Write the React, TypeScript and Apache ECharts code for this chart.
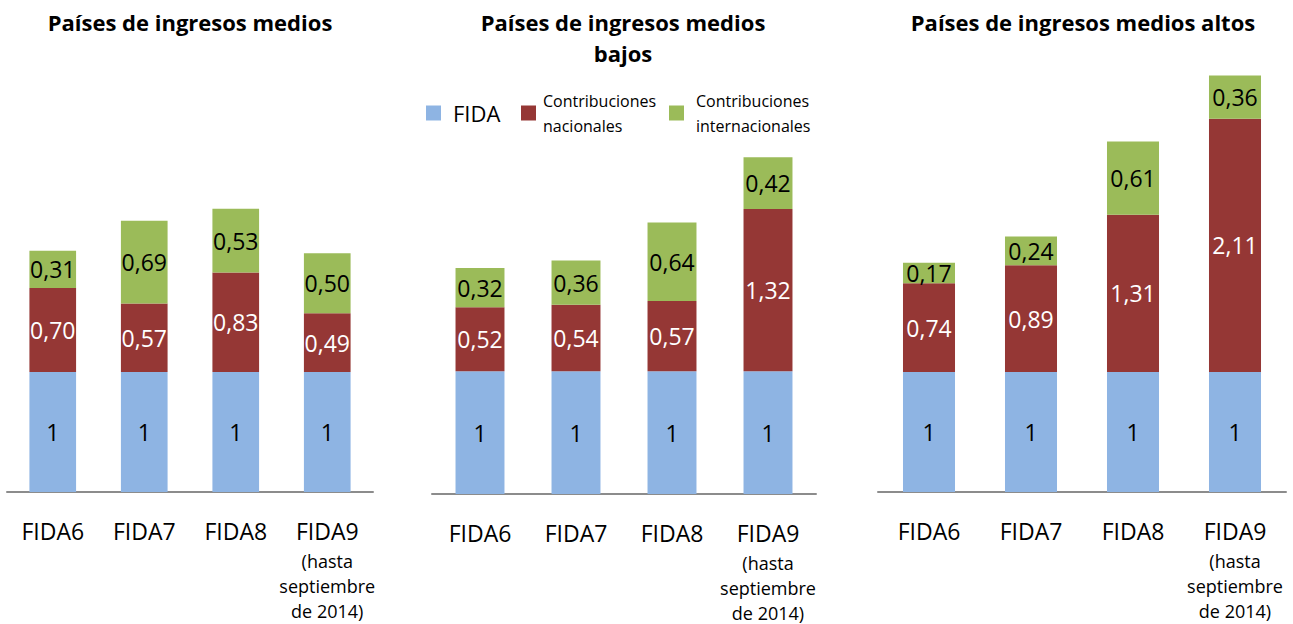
import React, { useEffect, useRef } from "react";
import * as echarts from "echarts";

const categories = ["FIDA6", "FIDA7", "FIDA8", "FIDA9\n(hasta\nseptiembre\nde 2014)"];
const seriesNames = ["FIDA", "Contribuciones nacionales", "Contribuciones internacionales"];
const panelTitles = [
  "Países de ingresos medios",
  "Países de ingresos medios\nbajos",
  "Países de ingresos medios altos",
];

// Panel 1: Países de ingresos medios
const p1Fida = [1, 1, 1, 1];
const p1Nacional = [0.7, 0.57, 0.83, 0.49];
const p1Internacional = [0.31, 0.69, 0.53, 0.5];
// Panel 2: Países de ingresos medios bajos
const p2Fida = [1, 1, 1, 1];
const p2Nacional = [0.52, 0.54, 0.57, 1.32];
const p2Internacional = [0.32, 0.36, 0.64, 0.42];
// Panel 3: Países de ingresos medios altos
const p3Fida = [1, 1, 1, 1];
const p3Nacional = [0.74, 0.89, 1.31, 2.11];
const p3Internacional = [0.17, 0.24, 0.61, 0.36];

const panels = [
  [p1Fida, p1Nacional, p1Internacional],
  [p2Fida, p2Nacional, p2Internacional],
  [p3Fida, p3Nacional, p3Internacional],
];

const colors = ["#8EB4E3", "#953735", "#9BBB59"];
const labelColors = ["#000000", "#ffffff", "#000000"];
const FONT = "'Open Sans', 'Noto Sans', sans-serif";

const grids = [
  { left: 7, width: 366, top: 72, height: 420 },
  { left: 432, width: 384, top: 64, height: 430 },
  { left: 878, width: 408, top: 72, height: 420 },
];
const titleCenters = [190, 623, 1083];

const fmt = (v: number) =>
  Number.isInteger(v) ? String(v) : v.toFixed(2).replace(".", ",");

export default function App() {
  const ref = useRef<HTMLDivElement>(null);
  useEffect(() => {
    if (!ref.current) return;
    const chart = echarts.init(ref.current, null, { renderer: "svg" });

    const series: any[] = [];
    panels.forEach((panel, pi) => {
      panel.forEach((vals, si) => {
        series.push({
          type: "bar",
          name: seriesNames[si],
          xAxisIndex: pi,
          yAxisIndex: pi,
          stack: "p" + pi,
          barWidth: "51%",
          data: vals,
          itemStyle: { color: colors[si] },
          label: {
            show: true,
            position: "inside",
            color: labelColors[si],
            fontFamily: FONT,
            fontSize: 23,
            formatter: (p: any) => fmt(p.value),
          },
        });
      });
    });

    const legendLefts = [426, 521, 669];
    const legends = seriesNames.map((n, i) => ({
      show: true,
      left: legendLefts[i],
      top: i === 0 ? 100 : 88,
      padding: 0,
      orient: "horizontal",
      icon: "rect",
      itemWidth: 15,
      itemHeight: 15,
      selectedMode: false,
      data: [n],
      formatter: (name: string) => name.replace(" ", "\n"),
      textStyle:
        i === 0
          ? { fontFamily: FONT, fontSize: 22, lineHeight: 26, color: "#000", padding: [0, 0, 0, 7] }
          : { fontFamily: FONT, fontSize: 16, lineHeight: 25, color: "#000", padding: [0, 0, 0, i === 1 ? 2 : 7] },
    }));

    chart.setOption({
      animation: false,
      title: panelTitles.map((t, i) => ({
        text: t,
        left: titleCenters[i],
        top: 6,
        padding: 0,
        textAlign: "center",
        textStyle: {
          fontFamily: FONT,
          fontSize: 22,
          fontWeight: "bold",
          color: "#000",
          lineHeight: 31,
        },
      })),
      legend: legends,
      grid: grids,
      xAxis: grids.map((_, i) => ({
        type: "category",
        gridIndex: i,
        data: categories,
        axisLine: { show: true, lineStyle: { color: "#8c8c8c", width: 2 } },
        axisTick: { show: false },
        axisLabel: {
          interval: 0,
          margin: 22,
          color: "#000",
          fontFamily: FONT,
          formatter: (v: string) => {
            const parts = v.split("\n");
            return parts
              .map((s, k) => (k === 0 ? "{a|" + s + "}" : "{b|" + s + "}"))
              .join("\n");
          },
          rich: {
            a: { fontFamily: FONT, fontSize: 23, lineHeight: 34, color: "#000" },
            b: { fontFamily: FONT, fontSize: 18, lineHeight: 25, color: "#000" },
          },
        },
      })),
      yAxis: grids.map((_, i) => ({
        type: "value",
        gridIndex: i,
        min: 0,
        max: 3.5,
        show: false,
        splitLine: { show: false },
      })),
      series,
    });

    return () => chart.dispose();
  }, []);

  return (
    <div
      ref={ref}
      style={{ position: "absolute", left: 0, top: 0, width: 1293, height: 624 }}
    />
  );
}
